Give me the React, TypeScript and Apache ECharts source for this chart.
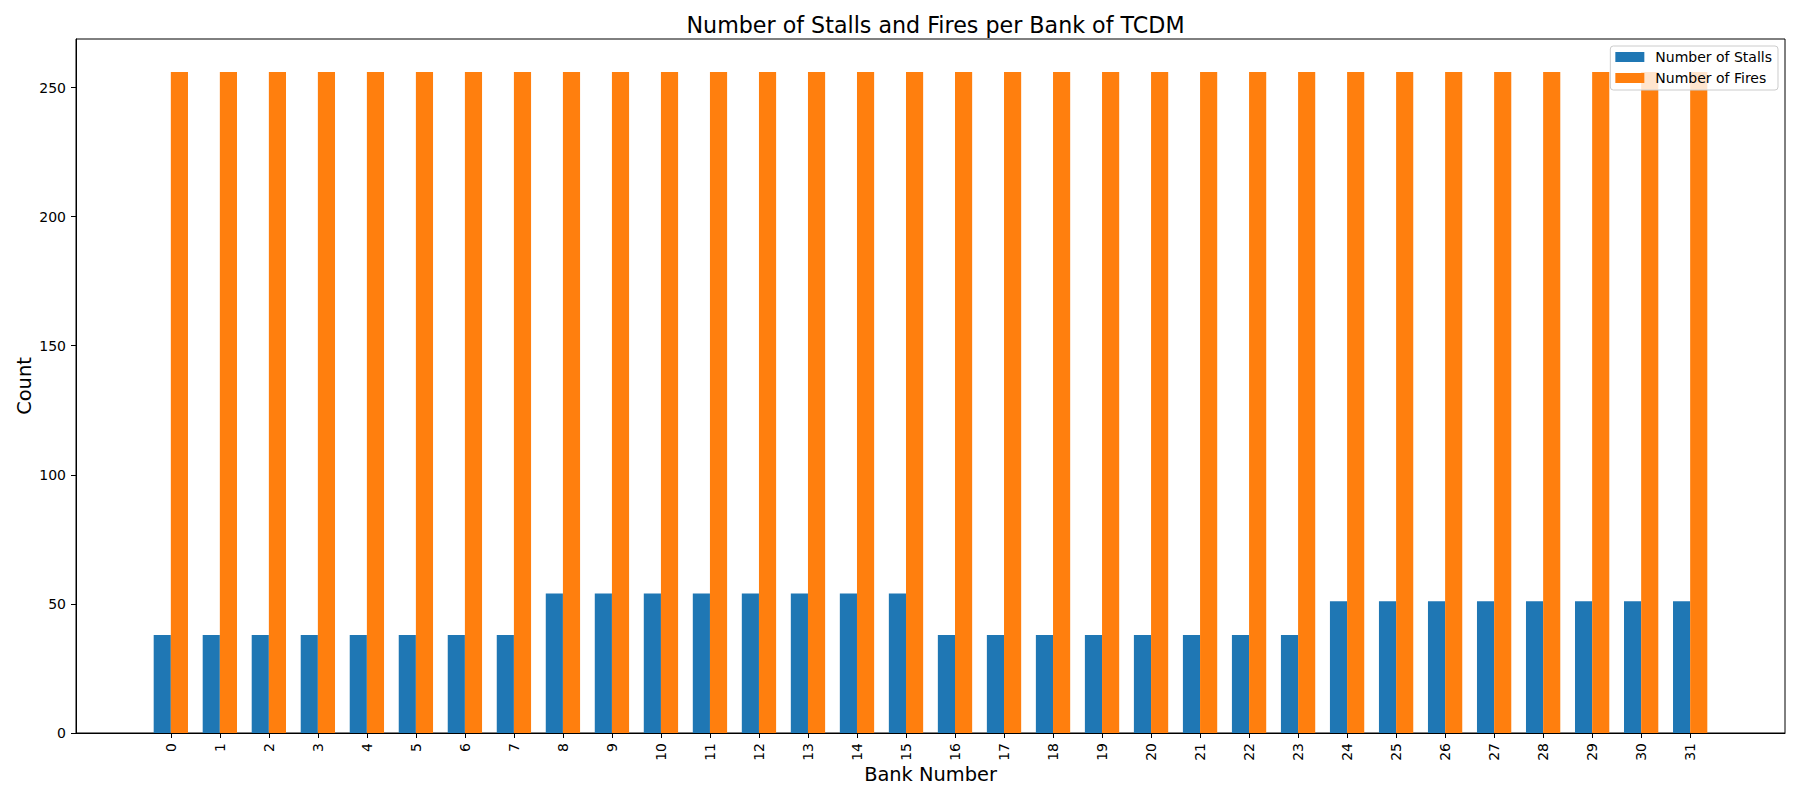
import { useEffect, useRef } from "react";
import * as echarts from "echarts";

const banks = [0, 1, 2, 3, 4, 5, 6, 7, 8, 9, 10, 11, 12, 13, 14, 15, 16, 17, 18, 19, 20, 21, 22, 23, 24, 25, 26, 27, 28, 29, 30, 31];
const stalls = [38, 38, 38, 38, 38, 38, 38, 38, 54, 54, 54, 54, 54, 54, 54, 54, 38, 38, 38, 38, 38, 38, 38, 38, 51, 51, 51, 51, 51, 51, 51, 51];
const fires = [256, 256, 256, 256, 256, 256, 256, 256, 256, 256, 256, 256, 256, 256, 256, 256, 256, 256, 256, 256, 256, 256, 256, 256, 256, 256, 256, 256, 256, 256, 256, 256];
const yTicks = [0, 50, 100, 150, 200, 250];
const seriesNames = ["Number of Stalls", "Number of Fires"];

export default function App() {
  const ref = useRef<HTMLDivElement>(null);
  useEffect(() => {
    const chart = echarts.init(ref.current!, null, { renderer: "svg" });
    const font = "DejaVu Sans";
    chart.setOption({
      animation: false,
      backgroundColor: "#ffffff",
      textStyle: { fontFamily: font, color: "#000" },
      title: {
        text: "Number of Stalls and Fires per Bank of TCDM",
        left: 930.5,
        top: 9,
        textAlign: "center",
        textStyle: { fontFamily: font, fontSize: 22.2, fontWeight: "normal", color: "#000" },
      },
      grid: {
        left: 76,
        right: 15,
        top: 39,
        bottom: 67,
        show: true,
        borderColor: "#000",
        borderWidth: 1,
        backgroundColor: "transparent",
      },
      legend: {
        data: seriesNames,
        orient: "vertical",
        right: 22,
        top: 46,
        itemWidth: 29,
        itemHeight: 10,
        itemGap: 7,
        padding: [4, 6, 5, 5],
        backgroundColor: "rgba(255,255,255,0.8)",
        borderColor: "#cccccc",
        borderWidth: 1,
        borderRadius: 3,
        icon: "rect",
        textStyle: { fontFamily: font, fontSize: 14, color: "#000", padding: [0, 0, 0, 6] },
      },
      xAxis: {
        type: "value",
        min: -1.935,
        max: 32.935,
        name: "Bank Number",
        nameLocation: "middle",
        nameGap: 32,
        nameMoveOverlap: false,
        nameTextStyle: { fontFamily: font, fontSize: 19.4, color: "#000" },
        axisLine: { show: true, onZero: false, lineStyle: { color: "#000", width: 1 } },
        axisTick: { show: true, customValues: banks, length: 5, lineStyle: { color: "#000", width: 1 } },
        axisLabel: {
          customValues: banks,
          rotate: 90,
          margin: 10,
          fontFamily: font,
          fontSize: 14,
          color: "#000",
        },
        splitLine: { show: false },
      },
      yAxis: {
        type: "value",
        min: 0,
        max: 268.8,
        name: "Count",
        nameLocation: "middle",
        nameGap: 42,
        nameMoveOverlap: false,
        nameTextStyle: { fontFamily: font, fontSize: 19.4, color: "#000" },
        axisLine: { show: true, onZero: false, lineStyle: { color: "#000", width: 1 } },
        axisTick: { show: true, customValues: yTicks, length: 5, lineStyle: { color: "#000", width: 1 } },
        axisLabel: { customValues: yTicks, margin: 10, fontFamily: font, fontSize: 14, color: "#000" },
        splitLine: { show: false },
      },
      series: [
        {
          name: seriesNames[0],
          type: "bar",
          data: banks.map((b, i) => [b, stalls[i]]),
          barWidth: 17.15,
          barGap: "0%",
          itemStyle: { color: "#1f77b4" },
        },
        {
          name: seriesNames[1],
          type: "bar",
          data: banks.map((b, i) => [b, fires[i]]),
          barWidth: 17.15,
          barGap: "0%",
          itemStyle: { color: "#ff7f0e" },
        },
      ],
    });
    return () => chart.dispose();
  }, []);
  return (
    <div
      ref={ref}
      style={{ position: "fixed", left: 0, top: 0, width: 1800, height: 800, background: "#fff" }}
    />
  );
}
